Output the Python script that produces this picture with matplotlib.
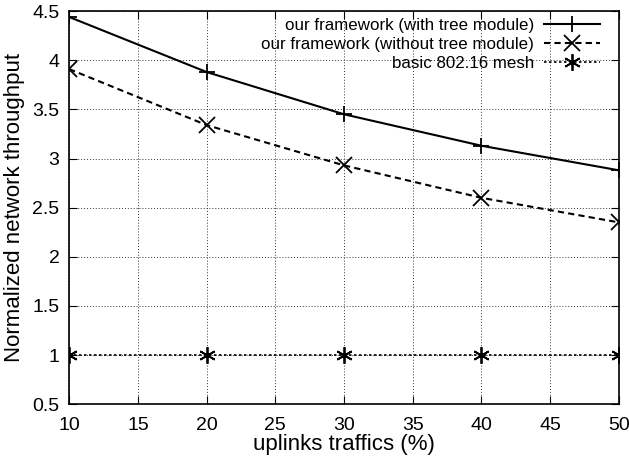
import matplotlib
matplotlib.use('Agg')
import matplotlib.pyplot as plt

# uplink traffic (%) and normalized throughput per scheme
traffic = [10, 20, 30, 40, 50]
with_tree = [4.44, 3.88, 3.45, 3.13, 2.88]
without_tree = [3.91, 3.34, 2.93, 2.60, 2.35]
basic_mesh = [1, 1, 1, 1, 1]

plt.rcParams['font.family'] = ['Liberation Sans', 'DejaVu Sans']

fig = plt.figure(figsize=(6.29, 4.63), dpi=100)
ax = fig.add_axes([0.110, 0.127, 0.874, 0.849])

ax.plot(traffic, with_tree, color='black', lw=1.5, ls='-', marker='+', ms=12, mew=1.3,
        label='our framework (with tree module)')
ax.plot(traffic, without_tree, color='black', lw=1.5, ls=(0, (3, 2)), marker='x', ms=11, mew=1.3,
        label='our framework (without tree module)')
ax.plot(traffic, basic_mesh, color='black', lw=1.2, ls=(0, (1.5, 1.5)), marker=(6, 2, 0), ms=12, mew=1.3,
        label='basic 802.16 mesh')

ax.set_xlim(10, 50)
ax.set_ylim(0.5, 4.5)
ax.set_xticks(range(10, 51, 5))
ax.set_yticks([0.5, 1, 1.5, 2, 2.5, 3, 3.5, 4, 4.5])
ax.set_yticklabels(['0.5', '1', '1.5', '2', '2.5', '3', '3.5', '4', '4.5'])
ax.grid(True, color='#333333', ls=(0, (1, 2)), lw=0.7)
ax.tick_params(direction='in', top=True, right=True, labelsize=14, length=6, pad=7)
ax.tick_params(axis='x', pad=9)
for s in ax.spines.values():
    s.set_linewidth(1.2)

ax.set_xlabel('uplinks traffics (%)', fontsize=16, labelpad=0)
ax.set_ylabel('Normalized network throughput', fontsize=16, labelpad=5)

leg = ax.legend(loc='upper right', bbox_to_anchor=(0.978, 1.0), frameon=False, markerfirst=False,
                fontsize=12.2, handlelength=3.3, labelspacing=0.23, borderaxespad=0.0,
                handletextpad=0.6)
for t in leg.get_texts():
    t.set_ha('right')

fig.savefig('out.png', dpi=100)
